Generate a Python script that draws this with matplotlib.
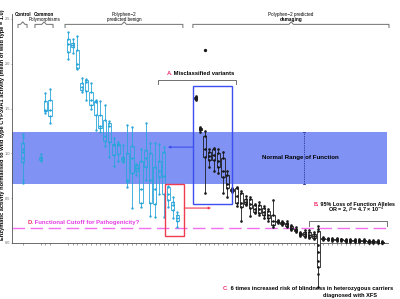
import matplotlib
matplotlib.use("Agg")
import matplotlib.pyplot as plt

plt.rcParams['font.family'] = ['Liberation Sans', 'DejaVu Sans']

# ---- data: replicate activity measurements per variant ----
control_pos = [0]
control_vals = [[0.67, 0.70, 0.90, 0.95, 1.02, 1.05, 1.12, 1.18, 1.22]]

common_pos = [4, 5, 6]
common_vals = [
    [0.92, 0.93, 0.945, 0.96, 0.99],
    [1.45, 1.47, 1.48, 1.58, 1.67],
    [1.34, 1.42, 1.48, 1.60, 1.72],
]

benign_pos = list(range(10, 35))
benign_vals = [
    [2.05, 2.13, 2.22, 2.28, 2.35],
    [2.12, 2.19, 2.21, 2.23, 2.28],
    [1.94, 1.95, 2.00, 2.15, 2.31],
    [1.69, 1.71, 1.74, 1.79, 1.84],
    [1.60, 1.70, 1.80, 1.82, 1.83],
    [1.49, 1.54, 1.60, 1.69, 1.79],
    [1.26, 1.43, 1.57, 1.59, 1.60],
    [1.24, 1.28, 1.31, 1.43, 1.59],
    [1.08, 1.14, 1.19, 1.37, 1.54],
    [0.96, 1.13, 1.31, 1.34, 1.36],
    [0.86, 0.98, 1.09, 1.11, 1.17],
    [0.91, 0.99, 1.09, 1.10, 1.13],
    [0.90, 0.91, 0.94, 0.96, 1.09],
    [0.63, 0.68, 0.70, 1.00, 1.32],
    [0.39, 0.78, 0.95, 1.08, 1.30],
    [0.76, 0.80, 0.84, 0.87, 0.88],
    [0.40, 0.45, 0.60, 0.91, 1.05],
    [0.70, 0.85, 0.95, 1.04, 1.34],
    [0.30, 0.45, 0.70, 1.00, 1.12],
    [0.29, 0.44, 0.60, 0.85, 1.12],
    [0.55, 0.74, 0.80, 0.91, 1.11],
    [0.29, 0.55, 0.75, 1.02, 1.07],
    [0.40, 0.48, 0.55, 0.63, 0.64],
    [0.28, 0.37, 0.42, 0.46, 0.51],
    [0.18, 0.24, 0.28, 0.31, 0.35],
]

damaging_pos = list(range(38, 80))
damaging_vals = [
    [1.60, 1.61, 1.62, 1.63, 1.64],
    [1.24, 1.26, 1.27, 1.28, 1.29],
    [0.56, 0.96, 1.05, 1.19, 1.25],
    [0.85, 0.93, 0.97, 1.02, 1.05],
    [0.80, 0.93, 0.98, 1.05, 1.06],
    [0.78, 0.85, 0.92, 1.00, 1.05],
    [0.56, 0.74, 0.80, 0.95, 1.02],
    [0.51, 0.61, 0.66, 0.76, 0.80],
    [0.57, 0.58, 0.59, 0.60, 0.61],
    [0.41, 0.45, 0.52, 0.61, 0.63],
    [0.24, 0.40, 0.45, 0.56, 0.58],
    [0.42, 0.44, 0.46, 0.49, 0.52],
    [0.30, 0.39, 0.44, 0.49, 0.51],
    [0.33, 0.35, 0.38, 0.42, 0.44],
    [0.31, 0.33, 0.38, 0.42, 0.46],
    [0.28, 0.31, 0.35, 0.39, 0.41],
    [0.25, 0.28, 0.31, 0.36, 0.38],
    [0.18, 0.20, 0.24, 0.31, 0.48],
    [0.22, 0.23, 0.24, 0.25, 0.26],
    [0.20, 0.21, 0.22, 0.23, 0.24],
    [0.18, 0.19, 0.21, 0.22, 0.24],
    [0.15, 0.16, 0.17, 0.19, 0.20],
    [0.12, 0.13, 0.15, 0.16, 0.18],
    [0.08, 0.09, 0.10, 0.11, 0.12],
    [0.07, 0.08, 0.10, 0.12, 0.14],
    [0.06, 0.07, 0.09, 0.12, 0.14],
    [0.05, 0.06, 0.08, 0.10, 0.12],
    [-0.49, -0.35, -0.27, -0.20, -0.10, -0.02, 0.13, 0.16, 0.19],
    [0.035, 0.045, 0.050, 0.055, 0.065],
    [0.030, 0.040, 0.045, 0.050, 0.060],
    [0.025, 0.035, 0.040, 0.045, 0.055],
    [0.025, 0.035, 0.040, 0.045, 0.055],
    [0.020, 0.030, 0.035, 0.040, 0.050],
    [0.015, 0.025, 0.030, 0.035, 0.045],
    [0.015, 0.025, 0.030, 0.035, 0.045],
    [0.015, 0.025, 0.030, 0.035, 0.045],
    [0.010, 0.020, 0.025, 0.030, 0.040],
    [0.010, 0.020, 0.025, 0.030, 0.040],
    [0.005, 0.015, 0.020, 0.025, 0.035],
    [0.005, 0.015, 0.020, 0.025, 0.035],
    [0.000, 0.010, 0.015, 0.020, 0.030],
    [0.000, 0.005, 0.010, 0.015, 0.020],
]
damaging_outliers = {40: [2.15]}
xfs_variant = 65

normal_range = (0.66, 1.24)
pathogenic_cutoff = 0.17
yticks = [0.0, 0.5, 1.0, 1.5, 2.0, 2.5]

# ---- styling ----
BENIGN = '#2aa6d9'
DAMAGING = '#1a1a1a'
BAND = '#8092f3'
RECT_BLUE = '#3d4ff0'
RECT_RED = '#f03c50'
LETTER = '#f0306a'
MAGENTA = '#e63ce6'
BRACE = '#707070'

fig = plt.figure(figsize=(4.0, 2.99), dpi=100)
ax = fig.add_axes([0, 0, 1, 1])
ax.set_xlim(-4.99, 82.92)
ax.set_ylim(-0.625, 2.712)

x_left = -2.35
x_right = 80.3

# normal range band and cutoff line
ax.fill_between([x_left, 80.1], normal_range[0], normal_range[1],
                color=BAND, lw=0, zorder=0)
ax.plot([x_left, 80.6], [pathogenic_cutoff] * 2, color='#f070f0', lw=1.0,
        dashes=(9, 4), zorder=1)


def draw_group(pos, vals, color, point_color=None, ms=1.7):
    bp = ax.boxplot(vals, positions=pos, widths=0.7, whis=(0, 100),
                    showfliers=False, showcaps=False, patch_artist=True,
                    manage_ticks=False,
                    boxprops=dict(facecolor='none', edgecolor=color, lw=0.6),
                    medianprops=dict(color=color, lw=0.6),
                    whiskerprops=dict(color=color, lw=0.6))
    for k in ('boxes', 'medians', 'whiskers'):
        for a in bp[k]:
            a.set_zorder(3)
    pc = point_color or color
    for p, v in zip(pos, vals):
        ax.plot([p] * len(v), v, 'o', ms=ms, color=pc, mec='none', zorder=4)
    return bp


draw_group(control_pos, control_vals, BENIGN)
draw_group(common_pos, common_vals, BENIGN)
draw_group(benign_pos, benign_vals, BENIGN)
bp = draw_group(damaging_pos, damaging_vals, DAMAGING, ms=1.9)
idx = damaging_pos.index(xfs_variant)
bp['boxes'][idx].set_facecolor('white')
for p, v in damaging_outliers.items():
    ax.plot([p] * len(v), v, 'o', ms=2.4, color=DAMAGING, mec='none', zorder=4)

# axes spines and ticks
for s in ('top', 'right'):
    ax.spines[s].set_visible(False)
ax.spines['left'].set_position(('data', x_left))
ax.spines['left'].set_bounds(0, 2.56)
ax.spines['bottom'].set_position(('data', 0))
ax.spines['bottom'].set_bounds(x_left, x_right)
for s in ('left', 'bottom'):
    ax.spines[s].set_color('#555555')
    ax.spines[s].set_linewidth(0.6)
all_pos = control_pos + common_pos + benign_pos + damaging_pos
ax.set_xticks(all_pos)
ax.set_xticklabels([])
ax.set_yticks(yticks)
ax.set_yticklabels([f'{t:.1f}' for t in yticks])
ax.tick_params(axis='x', length=1.5, width=0.4, color='#555555', direction='out')
ax.tick_params(axis='y', length=1.0, width=0.4, color='#555555', labelsize=2.8,
               labelcolor='#666666', pad=0.6)

ax.text(-4.4, 1.32,
        'Enzymatic activity normalised to wild type CYP39A1 activity (mean of wild type = 1.0)',
        rotation=90, ha='center', va='center', fontsize=4.1, fontweight='bold')


def brace(x0, x1, y, h, notch=None):
    xs = [x0, x0, x1, x1]
    ys = [y - h, y, y, y - h]
    if notch is not None:
        d = 0.5
        xs = [x0, x0, notch - d, notch, notch + d, x1, x1]
        ys = [y - h, y, y, y + h * 0.8, y, y, y - h]
    ax.plot(xs, ys, color=BRACE, lw=0.7, solid_joinstyle='round', zorder=5)


# group brackets along the top
TOP = 3.3
brace(-1.03, 0.95, 2.44, 0.035, notch=0)
brace(2.7, 6.66, 2.44, 0.035, notch=4.7)
brace(9.3, 35.2, 2.44, 0.035, notch=22.3)
brace(37.4, 80.5, 2.44, 0.035, notch=59.0)
ax.text(0, 2.55, 'Control', fontsize=TOP, fontweight='bold', ha='center', va='center')
ax.text(4.7, 2.55, 'Common', fontsize=TOP, fontweight='bold', ha='center', va='center')
ax.text(4.7, 2.49, 'Polymorphisms', fontsize=TOP, ha='center', va='center')
ax.text(22.3, 2.55, 'Polyphen\u22122', fontsize=TOP, ha='center', va='center')
ax.text(22.3, 2.49, 'predicted benign', fontsize=TOP, ha='center', va='center')
ax.text(59.0, 2.55, 'Polyphen\u22122 predicted', fontsize=TOP, ha='center', va='center')
ax.text(59.0, 2.49, 'damaging', fontsize=TOP, fontweight='bold', ha='center', va='center')


def two_tone(x, y, head, rest, c_head, c_rest, size):
    t1 = ax.text(x, y, head, color=c_head, fontsize=size, fontweight='bold',
                 ha='left', va='baseline', zorder=7)
    t2 = ax.annotate(rest, xycoords=t1, xy=(1, 0), va='bottom', ha='left',
                     color=c_rest, fontsize=size, fontweight='bold', zorder=7)
    return t1, t2


# A: misclassified variants
brace(29.7, 46.9, 1.82, 0.045)
two_tone(31.6, 1.875, 'A.', ' Misclassified variants', LETTER, 'black', 4.2)
ax.add_patch(plt.Rectangle((37.4, 0.435), 46.0 - 37.4, 1.75 - 0.435,
                           fill=False, ec=RECT_BLUE, lw=1.0, zorder=6))
ax.annotate('', xy=(31.9, 1.07), xytext=(37.4, 1.07),
            arrowprops=dict(arrowstyle='-|>', color=RECT_BLUE, lw=0.8,
                            mutation_scale=3, shrinkA=0, shrinkB=0), zorder=6)

# normal range label with dotted span marker
ax.plot([61.8, 61.8], list(normal_range), color='#27319a', lw=0.6, ls=(0, (1.5, 1.2)), zorder=5)
for yy in normal_range:
    ax.plot([61.5, 62.1], [yy, yy], color='#27319a', lw=0.6, zorder=5)
ax.text(61.0, 0.95, 'Normal Range of Function', fontsize=4.4, fontweight='bold',
        ha='center', va='center', zorder=7)

# D: functional cutoff
two_tone(1.0, 0.215, 'D.', ' Functional Cutoff for Pathogenicity?', LETTER, MAGENTA, 4.3)
ax.add_patch(plt.Rectangle((31.3, 0.08), 35.5 - 31.3, 0.66 - 0.08,
                           fill=False, ec=RECT_RED, lw=1.0, zorder=6))
ax.annotate('', xy=(41.4, 0.39), xytext=(35.5, 0.39),
            arrowprops=dict(arrowstyle='-|>', color=RECT_RED, lw=0.8,
                            mutation_scale=3, shrinkA=0, shrinkB=0), zorder=6)

# B: loss of function alleles
brace(62.9, 80.1, 0.245, 0.055)
two_tone(64.0, 0.415, 'B.', ' 95% Loss of Function Alleles', LETTER, 'black', 3.9)
ax.text(73.2, 0.365, 'OR = 2, $\\mathit{P}$ = 4.7 \u00d7 10$^{-4}$', fontsize=3.9,
        fontweight='bold', ha='center', va='center', zorder=7)

# C: XFS carriers
two_tone(44.0, -0.525, 'C.', ' 6 times increased risk of blindness in heterozygous carriers',
         LETTER, 'black', 4.1)
ax.text(72.0, -0.585, 'diagnosed with XFS', fontsize=4.1, fontweight='bold',
        ha='center', va='center', zorder=7)

fig.savefig('out.png', dpi=100)
